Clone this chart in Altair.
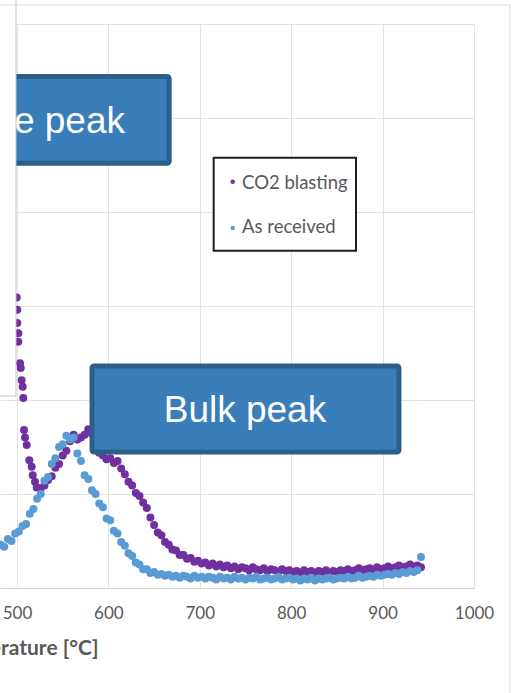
import altair as alt
import pandas as pd

# ---- desorption data (rate in arbitrary units, one grid step = 1) ----
# As-received sample, sampled every 4 °C from 482 to 942 °C
received_temp = list(range(482, 943, 4))
received_rate = [
    0.46, 0.44, 0.52, 0.50, 0.58, 0.60, 0.66, 0.68, 0.79, 0.84,
    0.95, 1.00, 1.14, 1.18, 1.32, 1.38, 1.50, 1.53, 1.62, 1.58,
    1.60, 1.43, 1.35, 1.20, 1.16, 1.04, 1.00, 0.90, 0.86, 0.74,
    0.72, 0.61, 0.58, 0.49, 0.45, 0.37, 0.34, 0.27, 0.25, 0.20,
    0.20, 0.16, 0.17, 0.14, 0.15, 0.13, 0.14, 0.12, 0.13, 0.11,
    0.13, 0.12, 0.10, 0.13, 0.11, 0.12, 0.10, 0.12, 0.11, 0.09,
    0.12, 0.10, 0.11, 0.09, 0.12, 0.10, 0.11, 0.09, 0.11, 0.10,
    0.12, 0.09, 0.10, 0.11, 0.09, 0.10, 0.12, 0.09, 0.10, 0.11,
    0.09, 0.10, 0.08, 0.10, 0.09, 0.11, 0.08, 0.10, 0.09, 0.10,
    0.11, 0.09, 0.10, 0.11, 0.10, 0.12, 0.10, 0.11, 0.13, 0.11,
    0.12, 0.13, 0.12, 0.14, 0.13, 0.14, 0.15, 0.14, 0.16, 0.15,
    0.17, 0.16, 0.18, 0.17, 0.19, 0.33,
]

# CO2-blasted sample: falling edge of the surface peak
blasted_tail_temp = [499.7, 500.3, 500.3, 501.4, 501.4, 503.3, 504.1, 505.1, 506.2, 506.9,
                     507.7, 508.8, 510.6, 513.5, 516.1, 517.2, 519.7, 521.6]
blasted_tail_rate = [3.09, 2.96, 2.82, 2.71, 2.62, 2.39, 2.34, 2.21, 2.14, 2.02,
                     1.68, 1.60, 1.52, 1.36, 1.29, 1.20, 1.13, 1.07]

# CO2-blasted sample, sampled every 4 °C from 526 to 942 °C
blasted_temp = list(range(526, 943, 4))
blasted_rate = [
    1.06, 1.09, 1.15, 1.19, 1.28, 1.32, 1.41, 1.46, 1.56, 1.63,
    1.58, 1.60, 1.63, 1.69, 1.64, 1.55, 1.44, 1.41, 1.37, 1.38,
    1.33, 1.35, 1.27, 1.21, 1.13, 1.09, 1.01, 0.98, 0.91, 0.85,
    0.75, 0.67, 0.59, 0.56, 0.49, 0.46, 0.41, 0.40, 0.35, 0.35,
    0.31, 0.32, 0.28, 0.29, 0.26, 0.27, 0.24, 0.26, 0.23, 0.25,
    0.22, 0.24, 0.21, 0.23, 0.20, 0.22, 0.21, 0.19, 0.22, 0.20,
    0.19, 0.21, 0.18, 0.20, 0.19, 0.17, 0.20, 0.18, 0.19, 0.17,
    0.18, 0.16, 0.19, 0.17, 0.18, 0.16, 0.18, 0.17, 0.19, 0.16,
    0.18, 0.17, 0.19, 0.18, 0.20, 0.18, 0.19, 0.21, 0.19, 0.20,
    0.21, 0.19, 0.22, 0.20, 0.21, 0.23, 0.21, 0.22, 0.24, 0.22,
    0.23, 0.25, 0.23, 0.24, 0.22,
]

series_names = ["CO2 blasting", "As received"]
series_colors = ["#7030A0", "#5B9BD5"]
x_ticks = [500, 600, 700, 800, 900, 1000]
y_grid = [0, 1, 2, 3, 4, 5, 6]

# ---- tables ----
blasted = pd.DataFrame({
    "temp": blasted_tail_temp + blasted_temp,
    "rate": blasted_tail_rate + blasted_rate,
    "series": series_names[0],
})
received = pd.DataFrame({"temp": received_temp, "rate": received_rate, "series": series_names[1]})
points = pd.concat([blasted, received], ignore_index=True)

GRID = "#E2E2E2"
TEXT = "#595959"

xs = alt.Scale(domain=[481.4, 1000], nice=False, zero=False)
ys = alt.Scale(domain=[0, 6], nice=False, zero=False)
colors = alt.Scale(domain=series_names, range=series_colors)

x_axis = alt.Axis(
    values=x_ticks, format="d", title="Temperature [°C]", grid=True, gridColor=GRID,
    domainColor="#D6D6D6", ticks=False, labelFont="Lato", labelFontSize=17,
    labelColor=TEXT, labelPadding=17, labelFlush=False, labelOverlap=False,
    titleFont="Lato", titleFontSize=21, titleFontWeight="bold", titleColor=TEXT,
    titleX=98, titleY=66, titleAlign="right", titleBaseline="alphabetic",
)
y_axis = alt.Axis(values=y_grid, grid=True, gridColor=GRID, labels=False,
                  ticks=False, domain=False, title=None)


def X(field):
    return alt.X(field, type="quantitative", scale=xs, axis=x_axis)


def Y(field):
    return alt.Y(field, type="quantitative", scale=ys, axis=y_axis)


scatter = alt.Chart(points).mark_circle(size=64, opacity=1).encode(
    x=X("temp"), y=Y("rate"),
    color=alt.Color("series:N", scale=colors, legend=None),
)

# ---- annotation boxes ----
boxes = pd.DataFrame({"x": [582.1, 380.0], "x2": [917.9, 666.5],
                      "y": [1.447, 4.519], "y2": [2.362, 5.441]})
box_layer = alt.Chart(boxes).mark_rect(
    fill="#3A7EB9", stroke="#2C5E8A", strokeWidth=5, cornerRadius=2
).encode(x=X("x"), x2="x2", y=Y("y"), y2="y2")

bulk_label = alt.Chart(pd.DataFrame({"x": [749.4], "y": [1.771], "t": ["Bulk peak"]})).mark_text(
    font="Liberation Sans", fontSize=37, color="white", align="center", baseline="alphabetic"
).encode(x=X("x"), y=Y("y"), text="t:N")

surface_label = alt.Chart(pd.DataFrame({"x": [618.2], "y": [4.84], "t": ["Surface peak"]})).mark_text(
    font="Liberation Sans", fontSize=37, color="white", align="right", baseline="alphabetic"
).encode(x=X("x"), y=Y("y"), text="t:N")

# white panel lying over the upper-left corner
panel = alt.Chart(pd.DataFrame({"x": [380.0], "x2": [498.9], "y": [2.043], "y2": [7.5]})).mark_rect(
    fill="white", stroke="#C4C4C4", strokeWidth=1
).encode(x=X("x"), x2="x2", y=Y("y"), y2="y2")

# ---- legend ----
legend_box = alt.Chart(pd.DataFrame({"x": [715.2], "x2": [870.9], "y": [3.588], "y2": [4.578]})).mark_rect(
    fill="white", stroke="#1F1F1F", strokeWidth=2
).encode(x=X("x"), x2="x2", y=Y("y"), y2="y2")

legend_items = pd.DataFrame({"series": series_names, "x": [736.0, 736.0], "y": [4.322, 3.83],
                             "tx": [746.2, 746.2], "ty": [4.241, 3.773]})
legend_dots = alt.Chart(legend_items).mark_circle(size=20, opacity=1).encode(
    x=X("x"), y=Y("y"), color=alt.Color("series:N", scale=colors, legend=None)
)
legend_text = alt.Chart(legend_items).mark_text(
    font="Lato", fontSize=18.5, color=TEXT, align="left", baseline="alphabetic"
).encode(x=X("tx"), y=Y("ty"), text="series:N")

# outer chart-area frame
frame = alt.Chart(pd.DataFrame({"x": [380.0], "x2": [1039.3], "y": [-3.0], "y2": [6.202]})).mark_rect(
    fill="white", fillOpacity=0, stroke="#D9D9D9", strokeWidth=1
).encode(x=X("x"), x2="x2", y=Y("y"), y2="y2")

chart = alt.layer(
    scatter, box_layer, bulk_label, surface_label, panel,
    legend_box, legend_dots, legend_text, frame,
).properties(
    width=474, height=564,
    autosize=alt.AutoSizeParams(type="none"),
    padding={"left": 0, "top": 24, "right": 39, "bottom": 105},
    background="white",
).configure_view(stroke=None)

chart.save("out.html", embed_options={"renderer": "svg", "actions": False})
